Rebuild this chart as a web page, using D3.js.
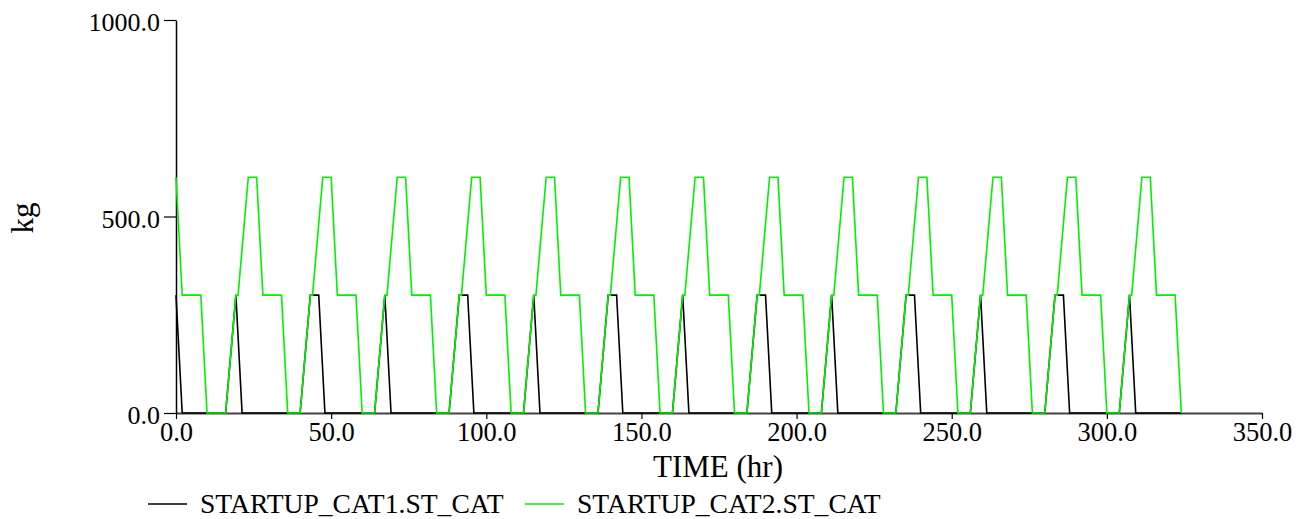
<!DOCTYPE html>
<html>
<head>
<meta charset="utf-8">
<script src="https://cdn.jsdelivr.net/npm/d3@7"></script>
<style>
  html, body { margin: 0; padding: 0; background: #fff; }
  svg { display: block; }
  svg text { font-family: "Liberation Serif", "Times New Roman", Times, "DejaVu Serif", serif !important; fill: #000; }
</style>
</head>
<body>
<div id="chart"></div>
<script>
// Series data: [TIME (hr), kg]
const cat1 = [
  [0, 300], [2, 0], [16, 0], [19.3, 300], [21.3, 0],
  [40, 0], [43.3, 300], [46, 300], [48, 0],
  [64, 0], [67.3, 300], [69.3, 0],
  [88, 0], [91.3, 300], [94, 300], [96, 0],
  [112, 0], [115.3, 300], [117.3, 0],
  [136, 0], [139.3, 300], [142, 300], [144, 0],
  [160, 0], [163.3, 300], [165.3, 0],
  [184, 0], [187.3, 300], [190, 300], [192, 0],
  [208, 0], [211.3, 300], [213.3, 0],
  [232, 0], [235.3, 300], [238, 300], [240, 0],
  [256, 0], [259.3, 300], [261.3, 0],
  [280, 0], [283.3, 300], [286, 300], [288, 0],
  [304, 0], [307.3, 300], [309.3, 0],
  [324, 0]
];

const cat2 = [
  [0, 600], [2, 300], [8, 300], [10, 0], [16, 0],
  [19.3, 300], [20, 300], [23.3, 600], [26, 600], [28, 300], [34, 300], [36, 0], [40, 0],
  [43.3, 300], [44, 300], [47.3, 600], [50, 600], [52, 300], [58, 300], [60, 0], [64, 0],
  [67.3, 300], [68, 300], [71.3, 600], [74, 600], [76, 300], [82, 300], [84, 0], [88, 0],
  [91.3, 300], [92, 300], [95.3, 600], [98, 600], [100, 300], [106, 300], [108, 0], [112, 0],
  [115.3, 300], [116, 300], [119.3, 600], [122, 600], [124, 300], [130, 300], [132, 0], [136, 0],
  [139.3, 300], [140, 300], [143.3, 600], [146, 600], [148, 300], [154, 300], [156, 0], [160, 0],
  [163.3, 300], [164, 300], [167.3, 600], [170, 600], [172, 300], [178, 300], [180, 0], [184, 0],
  [187.3, 300], [188, 300], [191.3, 600], [194, 600], [196, 300], [202, 300], [204, 0], [208, 0],
  [211.3, 300], [212, 300], [215.3, 600], [218, 600], [220, 300], [226, 300], [228, 0], [232, 0],
  [235.3, 300], [236, 300], [239.3, 600], [242, 600], [244, 300], [250, 300], [252, 0], [256, 0],
  [259.3, 300], [260, 300], [263.3, 600], [266, 600], [268, 300], [274, 300], [276, 0], [280, 0],
  [283.3, 300], [284, 300], [287.3, 600], [290, 600], [292, 300], [298, 300], [300, 0], [304, 0],
  [307.3, 300], [308, 300], [311.3, 600], [314, 600], [316, 300], [322, 300], [324, 0]
];

const seriesNames = ['STARTUP_CAT1.ST_CAT', 'STARTUP_CAT2.ST_CAT'];
const seriesColors = ['#000000', '#00f000'];
const xTicks = [0, 50, 100, 150, 200, 250, 300, 350];
const yTicks = [0, 500, 1000];
const xDomain = [0, 350];
const yDomain = [0, 1000];

const width = 1298;
const height = 519;
const margin = { top: 20, right: 36, bottom: 106, left: 176 };
const serif = '"Liberation Serif", "Times New Roman", Times, "DejaVu Serif", serif';

const svg = d3.select('#chart')
  .append('svg')
  .attr('width', width)
  .attr('height', height)
  .style('font-family', serif);

const x = d3.scaleLinear()
  .domain(xDomain)
  .range([margin.left, width - margin.right]);

const y = d3.scaleLinear()
  .domain(yDomain)
  .range([height - margin.bottom, margin.top]);

// X axis (grey line, ticks hanging down)
const xAxis = svg.append('g')
  .attr('transform', `translate(0,${y(0)})`)
  .call(d3.axisBottom(x)
    .tickValues(xTicks)
    .tickFormat(d3.format('.1f'))
    .tickSizeInner(6)
    .tickSizeOuter(0)
    .tickPadding(3));

xAxis.attr('font-family', null).attr('font-size', null);
xAxis.select('.domain').attr('stroke', '#444').attr('stroke-width', 2);
xAxis.selectAll('.tick line').attr('stroke', '#000').attr('stroke-width', 1.2);
xAxis.selectAll('.tick text')
  .style('font-family', serif)
  .style('font-size', '26.5px')
  .attr('fill', '#000');

// Y axis
const yAxis = svg.append('g')
  .attr('transform', `translate(${x(0)},0)`)
  .call(d3.axisLeft(y)
    .tickValues(yTicks)
    .tickFormat(d3.format('.1f'))
    .tickSizeInner(12)
    .tickSizeOuter(0)
    .tickPadding(4));

yAxis.attr('font-family', null).attr('font-size', null);
yAxis.select('.domain').attr('stroke', '#000').attr('stroke-width', 1.5);
yAxis.selectAll('.tick line').attr('stroke', '#000').attr('stroke-width', 1.2);
yAxis.selectAll('.tick text')
  .style('font-family', serif)
  .style('font-size', '26px')
  .attr('dy', '0.42em')
  .attr('fill', '#000');

// Axis titles
svg.append('text')
  .attr('x', 718)
  .attr('y', 477)
  .attr('text-anchor', 'middle')
  .style('font-size', '31px')
  .text('TIME (hr)');

svg.append('text')
  .attr('transform', 'translate(33,218) rotate(-90)')
  .attr('text-anchor', 'middle')
  .style('font-size', '31px')
  .text('kg');

// Lines
const line = d3.line()
  .x(d => x(d[0]))
  .y(d => y(d[1]));

[cat1, cat2].forEach((data, i) => {
  svg.append('path')
    .datum(data)
    .attr('fill', 'none')
    .attr('stroke', seriesColors[i])
    .attr('stroke-width', 1.6)
    .attr('stroke-linejoin', 'miter')
    .attr('d', line);
});

// Legend
const legendX = [148, 525];
const legend = svg.append('g').attr('class', 'legend');
seriesNames.forEach((name, i) => {
  legend.append('line')
    .attr('x1', legendX[i])
    .attr('x2', legendX[i] + 39)
    .attr('y1', 504)
    .attr('y2', 504)
    .attr('stroke', seriesColors[i])
    .attr('stroke-width', 1.6);
  legend.append('text')
    .attr('x', legendX[i] + 52)
    .attr('y', 513)
    .style('font-size', '27.6px')
    .text(name);
});
</script>
</body>
</html>
